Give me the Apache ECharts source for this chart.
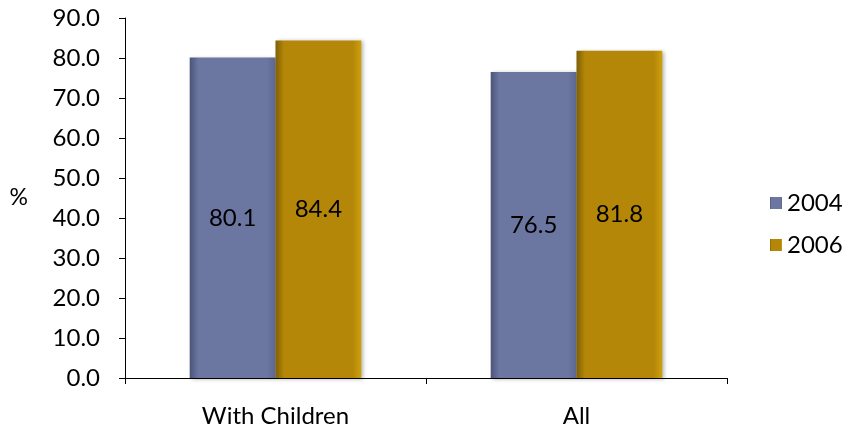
<!DOCTYPE html>
<html><head><meta charset="utf-8">
<script src="https://cdn.jsdelivr.net/npm/echarts@6/dist/echarts.min.js"></script>
<style>html,body{margin:0;padding:0;background:#fff}#c{width:846px;height:431px}</style>
</head><body><div id="c"></div>
<script>
const categories = ['With Children', 'All'];
const series2004 = [80.1, 76.5];
const series2006 = [84.4, 81.8];
const seriesNames = ['2004', '2006'];

const FONT = 'Lato, "Open Sans", sans-serif';
function grad(dark, mid, light) {
  return new echarts.graphic.LinearGradient(0, 0, 1, 0, [
    {offset: 0, color: dark}, {offset: 0.1, color: mid},
    {offset: 0.9, color: mid}, {offset: 1, color: light}
  ]);
}
const chart = echarts.init(document.getElementById('c'));
chart.setOption({
  animation: false,
  grid: {left: 125, right: 119, top: 18, bottom: 53},
  legend: {
    orient: 'vertical', left: 765, top: 186, itemGap: 18,
    itemWidth: 12, itemHeight: 12, icon: 'rect',
    textStyle: {fontFamily: FONT, fontSize: 24, color: '#000'},
    data: seriesNames
  },
  xAxis: {
    type: 'category', data: categories,
    axisLine: {lineStyle: {color: '#000', width: 1}},
    axisTick: {show: true, length: 6, lineStyle: {color: '#000'}},
    axisLabel: {fontFamily: FONT, fontSize: 24, color: '#000', margin: 26}
  },
  yAxis: {
    type: 'value', min: 0, max: 90, interval: 10,
    name: '%', nameLocation: 'middle', nameRotate: 0, nameGap: 97,
    nameTextStyle: {fontFamily: FONT, fontSize: 23, color: '#000'},
    axisLine: {show: true, lineStyle: {color: '#000'}},
    axisTick: {show: true, length: 6, lineStyle: {color: '#000'}},
    splitLine: {show: false},
    axisLabel: {fontFamily: FONT, fontSize: 24, color: '#000', margin: 25,
      formatter: v => v.toFixed(1)}
  },
  series: [
    {name: seriesNames[0], type: 'bar', data: series2004, barGap: '0%', barCategoryGap: '43%',
     itemStyle: {color: grad('#4c5478', '#6b76a1', '#5d678f'), shadowColor: 'rgba(0,0,0,0.3)', shadowBlur: 4, shadowOffsetX: 2, shadowOffsetY: 1},
     label: {show: true, position: 'inside', fontFamily: FONT, fontSize: 24, color: '#000', formatter: p => p.value.toFixed(1)}},
    {name: seriesNames[1], type: 'bar', data: series2006,
     itemStyle: {color: grad('#7e5f05', '#b48708', '#cfa00d'), shadowColor: 'rgba(0,0,0,0.3)', shadowBlur: 4, shadowOffsetX: 2, shadowOffsetY: 1},
     label: {show: true, position: 'inside', fontFamily: FONT, fontSize: 24, color: '#000', formatter: p => p.value.toFixed(1)}}
  ]
});
</script></body></html>
